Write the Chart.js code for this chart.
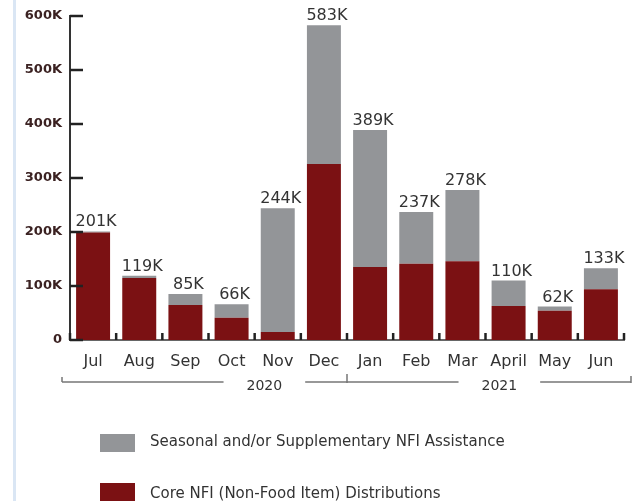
<!DOCTYPE html>
<html>
<head>
<meta charset="utf-8">
<script src="https://cdn.jsdelivr.net/npm/chart.js@4.4.1/dist/chart.umd.min.js"></script>
<style>
    body { margin: 0; background: #fff; }
    #wrap { position: relative; width: 638px; height: 501px; overflow: hidden; }
    #edge { position: absolute; left: 13px; top: 0; width: 3px; height: 501px; background: #dae6f4; }
    .leg { position: absolute; left: 100px; font: 15px "DejaVu Sans", sans-serif; color: #333; }
    .leg span { position: absolute; left: 0; top: 0; width: 35px; height: 18px; }
    .leg b { position: absolute; left: 50px; font-weight: normal; white-space: nowrap; }
</style>
</head>
<body>
<div id="wrap">
    <div id="edge"></div>
    <canvas id="nfiChart"></canvas>
    <div id="legend"></div>
</div>
<script>
// months Jul 2020 - Jun 2021
const months = ["Jul", "Aug", "Sep", "Oct", "Nov", "Dec", "Jan", "Feb", "Mar", "April", "May", "Jun"];

// values in thousands
const coreNfi = [199, 115, 65, 41, 15, 326, 135, 141, 146, 63, 54, 94];
const seasonalNfi = [2, 4, 20, 25, 229, 257, 254, 96, 132, 47, 8, 39];

const yTicks = [0, 100, 200, 300, 400, 500, 600];

const years = [
    { label: "2020", from: 0, to: 6, textAt: 3.71 },
    { label: "2021", from: 6, to: 12, textAt: 8.8 }
];

const RED = "#7b1113";
const GREY = "#939598";

// inner tick marks, bar totals and year brackets
const decoPlugin = {
    id: "deco",
    afterDraw(chart) {
        const ctx = chart.ctx;
        const x = chart.scales.x;
        const y = chart.scales.y;
        const area = chart.chartArea;
        const step = (area.right - area.left) / months.length;
        const edge = i => area.left + i * step;

        ctx.save();

        // x ticks pointing up
        ctx.strokeStyle = "#222";
        ctx.lineWidth = 2.5;
        for (let i = 0; i <= months.length; i++) {
            ctx.beginPath();
            ctx.moveTo(edge(i), area.bottom);
            ctx.lineTo(edge(i), area.bottom - 7);
            ctx.stroke();
        }

        // y ticks pointing right
        yTicks.forEach(t => {
            const py = y.getPixelForValue(t * 1000);
            ctx.beginPath();
            ctx.moveTo(area.left, py);
            ctx.lineTo(area.left + 13, py);
            ctx.stroke();
        });

        // totals
        const top = chart.getDatasetMeta(1);
        ctx.fillStyle = "#333";
        ctx.font = "16px 'DejaVu Sans'";
        ctx.textAlign = "center";
        ctx.textBaseline = "alphabetic";
        months.forEach((m, i) => {
            const total = coreNfi[i] + seasonalNfi[i];
            const bar = top.data[i];
            ctx.fillText(total + "K", bar.x + 3, bar.y - 5);
        });

        // year brackets
        const ly = 382;
        ctx.strokeStyle = "#777";
        ctx.lineWidth = 1.5;
        ctx.font = "14px 'DejaVu Sans'";
        ctx.fillStyle = "#333";
        years.forEach((g, gi) => {
            const x0 = gi === 0 ? edge(g.from) - 8 : edge(g.from);
            const x1 = gi === years.length - 1 ? edge(g.to) + 7 : edge(g.to);
            const tx = x.getPixelForValue(g.textAt);
            const half = ctx.measureText(g.label).width / 2 + 23;
            ctx.beginPath();
            ctx.moveTo(x0, ly);
            ctx.lineTo(tx - half, ly);
            ctx.moveTo(tx + half, ly);
            ctx.lineTo(x1, ly);
            ctx.stroke();
            ctx.fillText(g.label, tx, ly + 8);
        });

        ctx.beginPath();
        ctx.moveTo(edge(0) - 8, ly);
        ctx.lineTo(edge(0) - 8, ly - 5);
        ctx.moveTo(edge(6), ly + 1);
        ctx.lineTo(edge(6), ly - 8);
        ctx.moveTo(edge(12) + 7, ly + 1);
        ctx.lineTo(edge(12) + 7, ly - 6);
        ctx.stroke();

        ctx.restore();
    }
};

const chart = new Chart(
    document.getElementById("nfiChart"),
    {
        type: "bar",
        data: {
            labels: months,
            datasets: [
                {
                    label: "Core NFI (Non-Food Item) Distributions",
                    data: coreNfi.map(v => v * 1000),
                    backgroundColor: RED
                },
                {
                    label: "Seasonal and/or Supplementary NFI Assistance",
                    data: seasonalNfi.map(v => v * 1000),
                    backgroundColor: GREY
                }
            ]
        },
        options: {
            responsive: true,
            maintainAspectRatio: false,
            animation: false,
            categoryPercentage: 1,
            barPercentage: 0.736,
            layout: {
                padding: { top: 16, right: 14, left: 0, bottom: 0 }
            },
            plugins: {
                legend: { display: false },
                tooltip: { enabled: false }
            },
            scales: {
                x: {
                    stacked: true,
                    grid: { display: false, drawTicks: false },
                    border: { display: true, color: "#666", width: 2 },
                    ticks: {
                        padding: 12,
                        color: "#333",
                        font: { family: "DejaVu Sans", size: 16 }
                    },
                    afterFit(scale) {
                        scale.height = 161;
                    }
                },
                y: {
                    stacked: true,
                    min: 0,
                    max: 600000,
                    grid: { display: false, drawTicks: false },
                    border: { display: true, color: "#333", width: 2 },
                    ticks: {
                        stepSize: 100000,
                        padding: 8,
                        color: "#3b2222",
                        font: { family: "DejaVu Sans", size: 13, weight: "bold" },
                        callback: v => v === 0 ? "0" : (v / 1000) + "K"
                    },
                    afterFit(scale) {
                        scale.width = 70;
                    }
                }
            }
        },
        plugins: [decoPlugin]
    }
);

// legend (grey first, as in the original)
const legend = document.getElementById("legend");
[1, 0].forEach((di, row) => {
    const ds = chart.data.datasets[di];
    const item = document.createElement("div");
    item.className = "leg";
    item.style.top = (434 + row * 49) + "px";
    item.innerHTML = '<span style="background:' + ds.backgroundColor + '"></span><b style="top:' + (row ? 1 : -2) + 'px">' + ds.label + "</b>";
    legend.appendChild(item);
});
</script>
</body>
</html>
